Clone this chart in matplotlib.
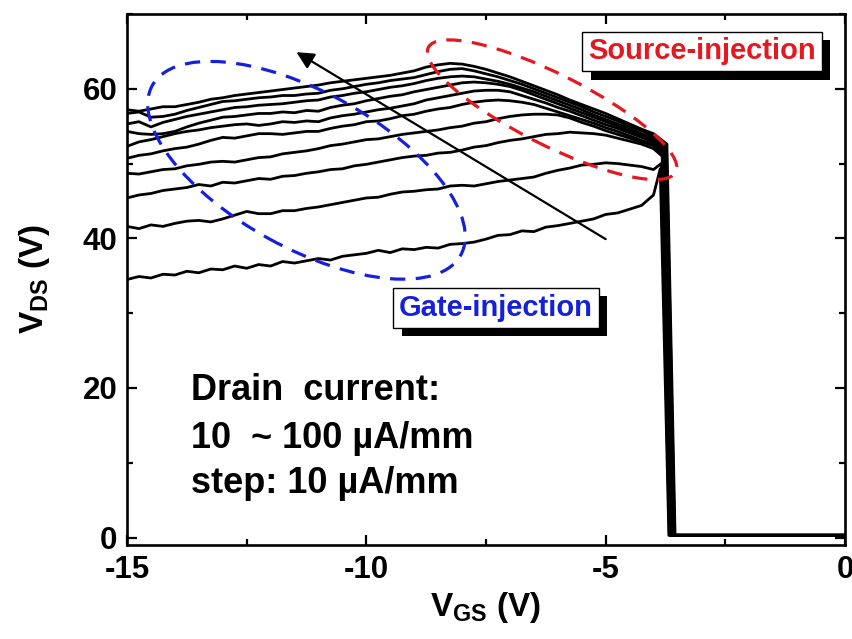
import matplotlib
matplotlib.use('Agg')
import matplotlib.pyplot as plt
import matplotlib.patheffects as pe
from matplotlib.patches import Ellipse
from matplotlib.transforms import ScaledTranslation
from matplotlib.ticker import MultipleLocator

plt.rcParams['font.family'] = ['Liberation Sans', 'DejaVu Sans']
plt.rcParams['font.weight'] = 'bold'
plt.rcParams['axes.unicode_minus'] = False
plt.rcParams['mathtext.fontset'] = 'custom'
plt.rcParams['mathtext.rm'] = 'Liberation Sans:bold'
plt.rcParams['mathtext.bf'] = 'Liberation Sans:bold'
plt.rcParams['lines.scale_dashes'] = False

# ── data (one row per volt of V_GS) ──
VGS_GRID = [-15.0, -14.75, -14.5, -14.25,
            -14.0, -13.75, -13.5, -13.25,
            -13.0, -12.75, -12.5, -12.25,
            -12.0, -11.75, -11.5, -11.25,
            -11.0, -10.75, -10.5, -10.25,
            -10.0, -9.75, -9.5, -9.25,
            -9.0, -8.75, -8.5, -8.25,
            -8.0, -7.75, -7.5, -7.25,
            -7.0, -6.75, -6.5, -6.25,
            -6.0, -5.75, -5.5, -5.25,
            -5.0, -4.75, -4.5, -4.25,
            -4.0]

ID_LABELS = [10, 20, 30, 40, 50, 60, 70, 80, 90, 100]  # uA/mm

VDS_10 = [34.5, 34.9, 34.7, 35.2, 35.1, 35.6, 35.4, 35.9, 35.8, 36.3, 36.0, 36.5,
          36.3, 36.9, 36.7, 37.0, 37.3, 37.1, 37.6, 37.8, 38.0, 38.4, 38.1, 38.6,
          38.5, 38.8, 38.7, 39.2, 39.3, 39.5, 39.9, 40.4, 40.5, 41.0, 40.9, 41.5,
          41.7, 42.0, 42.3, 42.6, 43.2, 43.4, 43.9, 44.4, 45.8]
VDS_20 = [41.6, 41.3, 41.8, 41.6, 42.0, 42.3, 42.4, 42.2, 42.6, 43.1, 43.6, 43.3,
          43.3, 43.7, 43.7, 44.0, 44.2, 44.5, 44.8, 45.1, 45.4, 45.5, 45.9, 46.2,
          46.3, 46.5, 46.6, 47.0, 47.1, 47.0, 47.3, 47.6, 47.8, 48.0, 48.2, 48.7,
          49.1, 49.4, 49.8, 49.9, 50.1, 50.0, 49.8, 49.6, 49.2]
VDS_30 = [45.4, 45.8, 46.0, 46.4, 46.6, 46.8, 47.2, 47.0, 47.5, 47.4, 47.7, 48.0,
          47.9, 48.3, 48.4, 48.7, 48.9, 49.2, 49.3, 49.7, 49.9, 50.2, 50.5, 50.8,
          51.0, 51.1, 51.4, 51.5, 51.8, 52.2, 52.4, 52.8, 53.1, 53.3, 53.6, 53.9,
          54.0, 54.2, 54.1, 54.0, 53.8, 53.4, 53.0, 52.6, 52.0]
VDS_40 = [48.7, 48.6, 48.9, 49.2, 49.3, 49.7, 49.9, 50.2, 50.3, 50.2, 50.5, 50.8,
          50.9, 51.3, 51.5, 51.7, 52.0, 52.4, 52.6, 52.9, 53.2, 53.3, 53.6, 53.9,
          54.1, 54.3, 54.5, 54.8, 55.0, 55.4, 55.6, 56.0, 56.3, 56.5, 56.6, 56.6,
          56.5, 56.1, 55.5, 55.0, 54.4, 53.9, 53.4, 52.9, 52.4]
VDS_50 = [50.7, 51.1, 51.3, 51.7, 52.0, 52.2, 52.6, 53.1, 53.5, 53.4, 53.7, 54.0,
          54.0, 53.9, 54.1, 54.3, 54.3, 54.7, 55.0, 55.2, 55.6, 55.7, 56.0, 56.4,
          56.6, 57.0, 57.3, 57.5, 57.9, 58.2, 58.4, 58.5, 58.4, 58.2, 57.9, 57.4,
          56.9, 56.4, 55.9, 55.4, 54.8, 54.3, 53.7, 53.1, 52.6]
VDS_60 = [52.3, 52.9, 53.2, 53.6, 54.0, 54.3, 54.5, 54.8, 55.0, 55.2, 55.3, 55.1,
          55.3, 55.6, 55.5, 55.7, 55.6, 56.1, 56.4, 56.6, 56.9, 57.2, 57.4, 57.7,
          58.0, 58.5, 58.8, 59.1, 59.4, 59.7, 59.8, 59.8, 59.6, 59.1, 58.6, 58.1,
          57.5, 57.0, 56.4, 55.8, 55.2, 54.7, 54.1, 53.5, 52.9]
VDS_70 = [54.3, 54.0, 53.9, 54.0, 54.3, 54.9, 55.4, 55.8, 56.2, 56.3, 56.5, 56.7,
          56.7, 56.9, 56.8, 57.1, 57.0, 57.5, 57.8, 58.0, 58.4, 58.7, 59.0, 59.2,
          59.6, 59.9, 60.2, 60.5, 60.8, 60.9, 60.8, 60.6, 60.3, 59.8, 59.2, 58.6,
          58.0, 57.4, 56.8, 56.2, 55.6, 55.0, 54.4, 53.8, 53.2]
VDS_80 = [55.3, 55.6, 54.9, 55.5, 55.9, 56.3, 56.6, 56.9, 57.2, 57.5, 57.6, 57.8,
          57.9, 58.0, 58.2, 58.4, 58.5, 58.9, 59.1, 59.4, 59.6, 59.9, 60.2, 60.4,
          60.7, 61.1, 61.4, 61.6, 61.7, 61.6, 61.3, 61.0, 60.6, 60.1, 59.6, 59.0,
          58.4, 57.8, 57.2, 56.5, 55.9, 55.3, 54.7, 54.0, 53.4]
VDS_90 = [56.7, 56.9, 56.2, 56.3, 56.6, 57.1, 57.5, 57.9, 58.3, 58.4, 58.6, 58.8,
          58.9, 59.1, 59.1, 59.3, 59.4, 59.8, 60.0, 60.3, 60.6, 60.8, 61.1, 61.3,
          61.5, 61.9, 62.3, 62.6, 62.7, 62.4, 62.0, 61.6, 61.1, 60.6, 60.0, 59.4,
          58.8, 58.2, 57.6, 56.9, 56.3, 55.7, 55.0, 54.4, 53.7]
VDS_100 = [57.2, 57.0, 57.3, 57.6, 57.6, 57.9, 58.2, 58.6, 58.8, 59.1, 59.3, 59.5,
           59.7, 59.9, 60.1, 60.3, 60.5, 60.8, 61.0, 61.2, 61.4, 61.6, 61.8, 62.1,
           62.4, 62.9, 63.2, 63.4, 63.3, 63.0, 62.6, 62.1, 61.6, 61.0, 60.4, 59.8,
           59.2, 58.5, 57.9, 57.3, 56.7, 56.0, 55.3, 54.6, 54.0]

# knee before the off-state drop, bottom of the drop, floor level
KNEE_VGS = [-3.86, -3.84, -3.82, -3.80, -3.79, -3.77, -3.76, -3.75, -3.73, -3.72]
KNEE_VDS = [49.3, 50.0, 51.0, 51.3, 51.5, 51.7, 51.9, 52.1, 52.3, 52.6]
DROP_VGS = [-3.68, -3.67, -3.65, -3.64, -3.62, -3.61, -3.59, -3.58, -3.56, -3.55]
FLOOR_VDS = [0.3, 0.3, 0.3, 0.3, 0.3, 0.3, 0.3, 0.3, 0.3, 0.3]

NOTE_LINES = ['Drain  current:', '10  ~ 100 \u00b5A/mm', 'step: 10 \u00b5A/mm']
NOTE_BASE = [18.4, 12.0, 5.9]

BLUE = '#1420dc'
RED = '#e4191f'

fig = plt.figure(figsize=(8.53, 6.39), dpi=100)
ax = fig.add_axes([0.1489, 0.1471, 0.8417, 0.8310])

curves = [VDS_10, VDS_20, VDS_30, VDS_40, VDS_50,
          VDS_60, VDS_70, VDS_80, VDS_90, VDS_100]
for i, vds in enumerate(curves):
    x = VGS_GRID + [KNEE_VGS[i], DROP_VGS[i], 0.0]
    y = vds + [KNEE_VDS[i], FLOOR_VDS[i], FLOOR_VDS[i]]
    ax.plot(x, y, color='black', lw=2.0, solid_joinstyle='round', zorder=2)


def ring(center, w_in, h_in, angle, color):
    """虚线椭圆：尺寸按英寸给，不随坐标轴比例变形。"""
    tr = fig.dpi_scale_trans + ScaledTranslation(center[0], center[1], ax.transData)
    e = Ellipse((0, 0), w_in, h_in, angle=angle, transform=tr, fill=False,
                ec=color, lw=2.3, ls=(0, (11, 7.5)), zorder=3)
    ax.add_patch(e)


ring((-11.25, 49.1), 3.52, 1.56, -28.8, BLUE)
ring((-6.12, 57.2), 2.77, 0.71, -26.7, RED)

ax.annotate('', xy=(-11.46, 64.9), xytext=(-5.0, 39.9),
            arrowprops=dict(arrowstyle='-|>', lw=1.6, color='black',
                            mutation_scale=26, shrinkA=0, shrinkB=0),
            zorder=4)


def tag(x, y, label, color):
    """带黑色阴影的文本框。"""
    shadow = [pe.SimplePatchShadow(offset=(6, -6), shadow_rgbFace='black', alpha=1.0),
              pe.Normal()]
    ax.text(x, y, label, ha='center', va='center', fontsize=21, color=color,
            bbox=dict(boxstyle='square,pad=0.2', fc='white', ec='black', lw=1.0,
                      path_effects=shadow),
            zorder=6)


tag(-7.29, 30.7, 'Gate-injection', BLUE)
tag(-2.99, 65.0, 'Source-injection', RED)

for txt, yb in zip(NOTE_LINES, NOTE_BASE):
    ax.text(-13.67, yb, txt, ha='left', va='baseline', fontsize=26, color='black')

ax.set_xlim(-15, 0)
ax.set_ylim(-1, 70)
ax.xaxis.set_major_locator(MultipleLocator(5))
ax.xaxis.set_minor_locator(MultipleLocator(2.5))
ax.yaxis.set_major_locator(MultipleLocator(20))
ax.yaxis.set_minor_locator(MultipleLocator(10))
ax.tick_params(which='both', direction='in', top=True, right=True, width=1.6)
ax.tick_params(which='major', length=7, labelsize=22.5, pad=7)
ax.tick_params(which='minor', length=4.5)
for s in ax.spines.values():
    s.set_linewidth(1.9)

ax.set_xlabel(r'$\mathbf{V_{GS}}$ (V)', fontsize=24, fontweight='bold', labelpad=4)
ax.set_ylabel(r'$\mathbf{V_{DS}}$ (V)', fontsize=24, fontweight='bold', labelpad=22)

fig.savefig('out.png', dpi=100)
plt.close(fig)
